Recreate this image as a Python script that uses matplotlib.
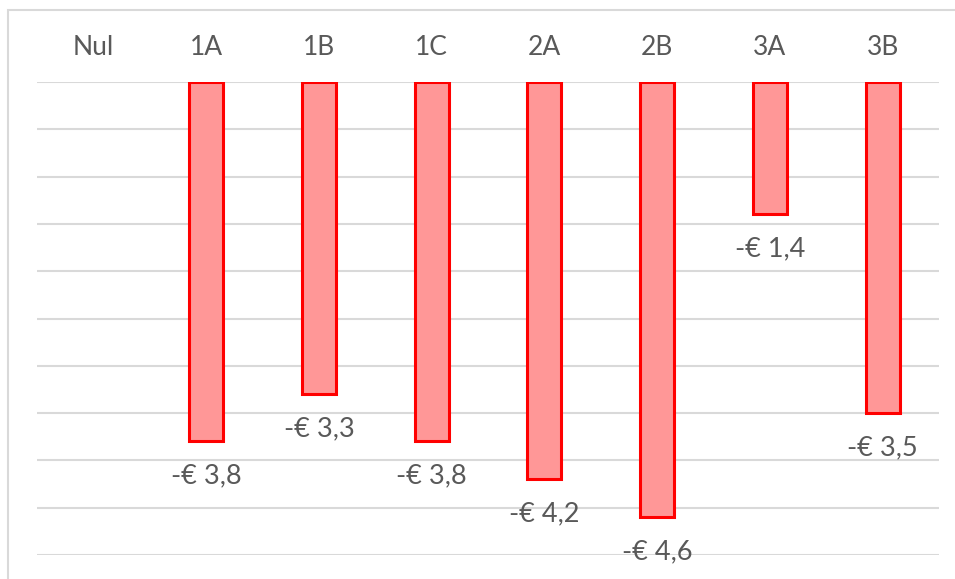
import matplotlib.pyplot as plt
from matplotlib.patches import Rectangle

categories = ["Nul", "1A", "1B", "1C", "2A", "2B", "3A", "3B"]
values = [0.0, -3.8, -3.3, -3.8, -4.2, -4.6, -1.4, -3.5]

FILL = "#FF9797"
EDGE = "#FF0000"
TEXT = "#595959"
GRID = "#D9D9D9"

plt.rcParams["font.family"] = ["Lato", "DejaVu Sans"]

fig = plt.figure(figsize=(9.55, 5.79), dpi=100)
ax = fig.add_axes([37 / 955, 1 - 555 / 579, 902 / 955, 473 / 579])

x = list(range(len(categories)))
bars = ax.bar(x, values, width=0.3, color=FILL, edgecolor=EDGE, linewidth=2.2, zorder=3)
for bar, v in zip(bars, values):
    if v == 0:
        bar.set_linewidth(0)
        continue
    label = f"-€ {abs(v):.1f}".replace(".", ",")
    ax.annotate(label, (bar.get_x() + bar.get_width() / 2, v),
                xytext=(0, -25), textcoords="offset points",
                ha="center", va="center", fontsize=19.5, color=TEXT)

ax.set_xlim(-0.5, len(categories) - 0.5)
ax.set_ylim(-5, 0)
ax.set_yticks([-5 + 0.5 * i for i in range(11)])
ax.yaxis.grid(True, color=GRID, linewidth=1.5, zorder=0)
ax.tick_params(axis="y", left=False, labelleft=False)

ax.xaxis.tick_top()
ax.set_xticks(x)
ax.set_xticklabels(categories, fontsize=19, color=TEXT)
ax.tick_params(axis="x", length=0, pad=16)

for s in ax.spines.values():
    s.set_visible(False)

fig.patches.append(Rectangle((8 / 955, -0.1), 1.2, (579 - 10) / 579 + 0.1,
                             transform=fig.transFigure, fill=False,
                             edgecolor=GRID, linewidth=1.5))

fig.savefig("out.png", dpi=100)
